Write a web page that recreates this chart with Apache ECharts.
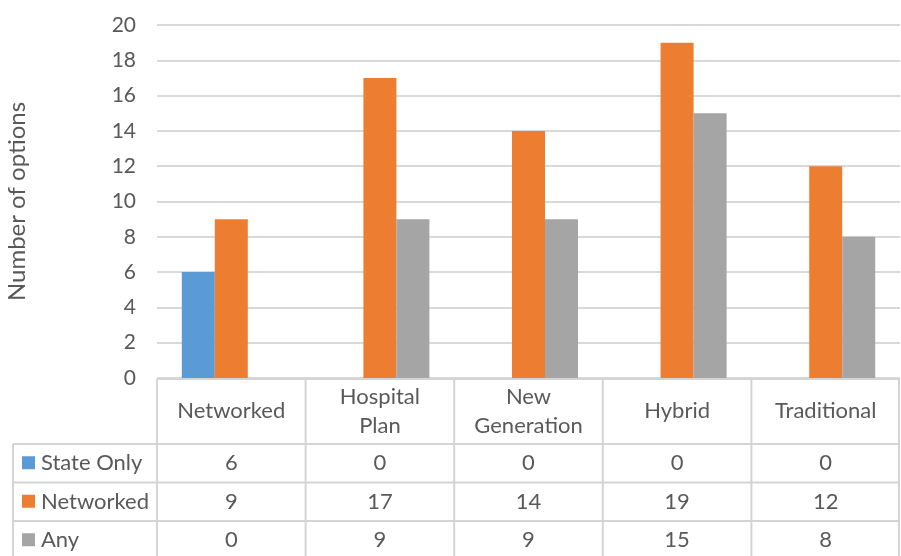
<!DOCTYPE html>
<html>
<head>
<meta charset="utf-8">
<script src="https://cdn.jsdelivr.net/npm/echarts@6/dist/echarts.min.js"></script>
<style>
  html, body { margin: 0; padding: 0; background: #fff; }
  #chart { width: 901px; height: 556px; }
</style>
</head>
<body>
<div id="chart"></div>
<script>
// Plan types and option counts per network setting
const categories = ['Networked', 'Hospital\nPlan', 'New\nGeneration', 'Hybrid', 'Traditional'];
const seriesNames = ['State Only', 'Networked', 'Any'];
const stateOnly = [6, 0, 0, 0, 0];
const networked = [9, 17, 14, 19, 12];
const anyNet = [0, 9, 9, 15, 8];
const yTicks = [0, 2, 4, 6, 8, 10, 12, 14, 16, 18, 20];

const colors = ['#5b9bd5', '#ed7d31', '#a5a5a5'];
const textColor = '#595959';
const lineColor = '#d4d4d4';
const fontFamily = 'Lato, "Open Sans", sans-serif';
const tableFont = 22;
const seriesValues = [stateOnly, networked, anyNet];

const chart = echarts.init(document.getElementById('chart'), null, { renderer: 'canvas' });

const gridLeft = 157, gridRight = 1, gridTop = 25, gridBottom = 178;

chart.setOption({
  animation: false,
  textStyle: { fontFamily: fontFamily },
  grid: {
    left: gridLeft, right: gridRight, top: gridTop, bottom: gridBottom,
    containLabel: false, outerBoundsMode: 'none'
  },
  xAxis: {
    type: 'category',
    data: categories,
    axisLine: { show: false },
    axisTick: { show: false },
    axisLabel: {
      color: textColor,
      fontSize: tableFont,
      fontFamily: fontFamily,
      lineHeight: 29,
      verticalAlign: 'middle',
      margin: 33,
      interval: 0
    }
  },
  yAxis: {
    type: 'value',
    min: yTicks[0],
    max: yTicks[yTicks.length - 1],
    interval: yTicks[1] - yTicks[0],
    name: 'Number of options',
    nameLocation: 'middle',
    nameGap: 128,
    nameTextStyle: { color: textColor, fontSize: 24, fontFamily: fontFamily },
    axisLine: { show: false },
    axisTick: { show: false },
    axisLabel: { color: textColor, fontSize: 21, margin: 21, fontFamily: fontFamily },
    splitLine: { lineStyle: { color: '#d9d9d9', width: 2 } }
  },
  series: seriesNames.map((name, i) => ({
    name: name,
    type: 'bar',
    data: seriesValues[i],
    barWidth: 33,
    barGap: '0%',
    itemStyle: { color: colors[i] }
  }))
});

// Data table drawn under the plot, aligned to the category bands
function buildTable() {
  const rect = chart.getModel().getComponent('grid').coordinateSystem.getRect();
  const left = rect.x, right = rect.x + rect.width, top = rect.y + rect.height;
  const band = rect.width / categories.length;
  const tableLeft = 13;
  const headerBottom = top + 66;
  const rowH = 38.5;
  const bottom = 580;
  const elements = [];
  const line = (x1, y1, x2, y2) => elements.push({
    type: 'line', silent: true,
    shape: { x1: x1, y1: y1, x2: x2, y2: y2 },
    style: { stroke: lineColor, lineWidth: 2 }
  });

  // horizontal rules
  line(left, top + 1, right, top + 1);
  for (let r = 0; r < seriesNames.length; r++) {
    const y = headerBottom + r * rowH;
    line(tableLeft, y, right, y);
  }
  // vertical rules
  line(tableLeft, headerBottom, tableLeft, bottom);
  for (let c = 0; c <= categories.length; c++) {
    const x = Math.min(left + c * band, right - 1);
    line(x, top + 1, x, bottom);
  }
  // rows: legend key, series name, values
  seriesNames.forEach((name, r) => {
    const cy = headerBottom + r * rowH + rowH / 2;
    elements.push({
      type: 'rect', silent: true,
      shape: { x: 22, y: cy - 7, width: 13, height: 13 },
      style: { fill: colors[r] }
    });
    elements.push({
      type: 'text', silent: true,
      style: {
        x: 41, y: cy, text: name, fill: textColor,
        font: tableFont + 'px ' + fontFamily, textAlign: 'left', textVerticalAlign: 'middle'
      }
    });
    seriesValues[r].forEach((v, c) => {
      const cx = chart.convertToPixel({ xAxisIndex: 0 }, c);
      elements.push({
        type: 'text', silent: true,
        style: {
          x: cx, y: cy, text: String(v), fill: textColor,
          font: tableFont + 'px ' + fontFamily, textAlign: 'center', textVerticalAlign: 'middle'
        }
      });
    });
  });
  chart.setOption({ graphic: elements });
}
buildTable();
</script>
</body>
</html>
